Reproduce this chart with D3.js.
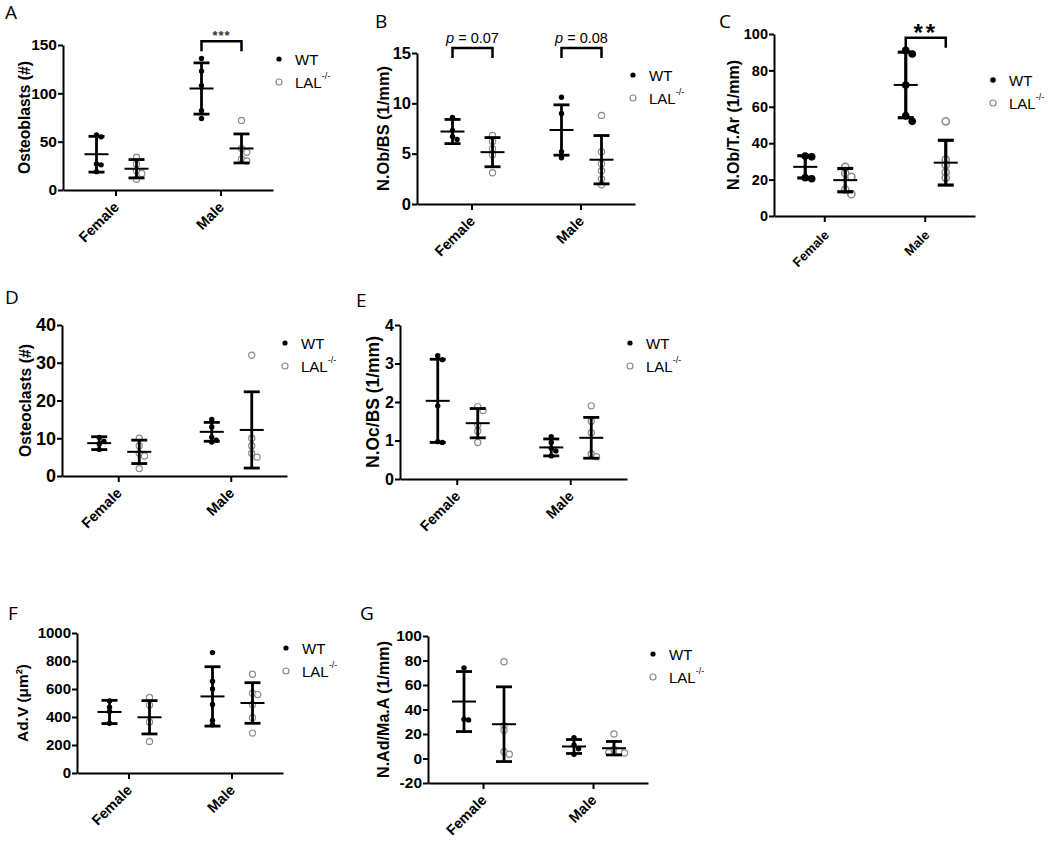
<!DOCTYPE html>
<html>
<head>
<meta charset="utf-8">
<title>Bone histomorphometry, WT vs LAL-/-</title>
<script src="https://cdn.jsdelivr.net/npm/d3@7"></script>
<style>
    body { margin: 0; background: #fff; }
    svg { font-family: 'Liberation Sans', Arial, sans-serif; }
    .letter { font-family: 'Open Sans', 'DejaVu Sans', sans-serif; font-size: 19px; }
</style>
</head>
<body>
<svg id="fig" width="1050" height="846"></svg>
<script>
// categories
var sexes = ['Female', 'Male'];
var genotypes = ['WT', 'LAL'];

// A - osteoblasts
var obTicks = [0, 50, 100, 150];
var obWT = [[57, 55, 27, 26, 19], [136, 123, 108, 82, 74]];
var obLAL = [[34, 27, 20, 17, 11], [72, 43, 39, 32, 30]];
var obMean = [[37, 22], [105, 43]];
var obSD = [[18.5, 9.5], [26.5, 15]];

// B - N.Ob/BS
var nobTicks = [0, 5, 10, 15];
var nobWT = [[8.6, 7.3, 6.7, 6.4], [10.6, 9.0, 5.2, 4.6]];
var nobLAL = [[6.8, 6.2, 5.5, 4.9, 3.1], [8.8, 5.2, 4.0, 3.3, 2.5, 1.9]];
var nobMean = [[7.2, 5.15], [7.35, 4.4]];
var nobSD = [[1.2, 1.45], [2.5, 2.4]];

// C - N.Ob/T.Ar
var nobtTicks = [0, 20, 40, 60, 80, 100];
var nobtWT = [[33, 32.5, 21, 20.5], [91, 89, 72, 55, 52]];
var nobtLAL = [[27, 23.5, 21.5, 14.5, 12], [52, 31, 28, 24, 21]];
var nobtMean = [[27, 19.7], [72, 29.3]];
var nobtSD = [[6.1, 6.4], [18, 12.3]];

// D - osteoclasts
var ocTicks = [0, 10, 20, 30, 40];
var ocWT = [[10.2, 9.2, 8.5, 7.0], [15, 13, 10.3, 9.5, 9.0]];
var ocLAL = [[10, 8, 6, 5.3, 2], [32, 10, 8, 6, 5]];
var ocMean = [[8.7, 6.4], [11.7, 12.2]];
var ocSD = [[1.7, 3.1], [2.5, 10.1]];

// E - N.Oc/BS
var nocTicks = [0, 1, 2, 3, 4];
var nocWT = [[3.2, 3.1, 1.9, 0.97, 0.95], [1.1, 0.95, 0.8, 0.73, 0.6]];
var nocLAL = [[1.88, 1.78, 1.4, 1.25, 0.95], [1.9, 1.5, 1.2, 0.65, 0.58]];
var nocMean = [[2.03, 1.45], [0.82, 1.07]];
var nocSD = [[1.08, 0.38], [0.22, 0.53]];

// F - Ad.V
var advTicks = [0, 200, 400, 600, 800, 1000];
var advWT = [[515, 470, 440, 355], [860, 655, 600, 490, 375, 345]];
var advLAL = [[540, 485, 365, 225], [705, 570, 560, 490, 395, 285]];
var advMean = [[436, 398], [547, 500]];
var advSD = [[83, 119], [212, 145]];

// G - N.Ad/Ma.A
var nadTicks = [-20, 0, 20, 40, 60, 80, 100];
var nadWT = [[74, 32, 31.5], [17, 11, 8, 3.5]];
var nadLAL = [[79, 27, 23, 5.5, 3.5], [20, 7.5, 6, 5, 4.5]];
var nadMean = [[46.5, 28], [9.8, 8.4]];
var nadSD = [[24.5, 30.5], [5.7, 5.5]];

// layout per panel (titleLen = length of the y title in px)
var panels = [
    {letter: 'A', ticks: obTicks, wt: obWT, lal: obLAL, mean: obMean, sd: obSD,
     title: 'Osteoblasts (#)', titleLen: 113, tickFont: 15.5,
     left: 63, right: 273, bottom: 190, top: 45, titleX: 24,
     letterPos: [5, 19], legend: [279, 59], sig: {sex: 'Male', value: 154, text: '***', dy: -1, size: 13}},
    {letter: 'B', ticks: nobTicks, wt: nobWT, lal: nobLAL, mean: nobMean, sd: nobSD,
     title: 'N.Ob/BS (1/mm)', titleLen: 125, tickFont: 16.5,
     left: 417, right: 635, bottom: 204, top: 53, titleX: 383,
     letterPos: [375, 28], legend: [633, 75],
     sig: [{sex: 'Female', value: 15.5, p: '0.07'}, {sex: 'Male', value: 15.5, p: '0.08'}]},
    {letter: 'C', ticks: nobtTicks, wt: nobtWT, lal: nobtLAL, mean: nobtMean, sd: nobtSD,
     title: 'N.Ob/T.Ar (1/mm)', titleLen: 130, tickFont: 14.5,
     left: 774, right: 975, bottom: 216, top: 34, titleX: 733,
     letterPos: [719, 28], legend: [993, 80], big: true,
     sig: {sex: 'Male', value: 98, text: '**', dy: 3, size: 24}},
    {letter: 'D', ticks: ocTicks, wt: ocWT, lal: ocLAL, mean: ocMean, sd: ocSD,
     title: 'Osteoclasts (#)', titleLen: 113, tickFont: 18,
     left: 62, right: 287, bottom: 476, top: 325, titleX: 25,
     letterPos: [5, 304], legend: [285, 343]},
    {letter: 'E', ticks: nocTicks, wt: nocWT, lal: nocLAL, mean: nocMean, sd: nocSD,
     title: 'N.Oc/BS (1/mm)', titleLen: 132, tickFont: 16,
     left: 400, right: 627, bottom: 479, top: 325, titleX: 373,
     letterPos: [356, 307], legend: [630, 343]},
    {letter: 'F', ticks: advTicks, wt: advWT, lal: advLAL, mean: advMean, sd: advSD,
     title: 'Ad.V (\u03bcm\u00b2)', titleLen: 78, tickFont: 15,
     left: 77, right: 283, bottom: 773, top: 633, titleX: 22,
     letterPos: [8, 620], legend: [286, 648]},
    {letter: 'G', ticks: nadTicks, wt: nadWT, lal: nadLAL, mean: nadMean, sd: nadSD,
     title: 'N.Ad/Ma.A (1/mm)', titleLen: 137, tickFont: 15.5,
     left: 428, right: 648, bottom: 783, top: 636, titleX: 383,
     letterPos: [360, 620], legend: [653, 654]}
];

var svg = d3.select('#fig');
svg.append('rect').attr('width', 1050).attr('height', 846).attr('fill', '#fff');

panels.forEach(drawPanel);

// simple swarm: nudge points sideways when they would sit on top of each other
function swarm(values, y, r) {
    var placed = [];
    return values.map(function (v) {
        var py = y(v);
        var steps = [0, 1, -1, 2, -2];
        for (var k = 0; k < steps.length; k++) {
            var px = steps[k] * r * 1.7;
            var free = placed.every(function (q) { return Math.hypot(q[0] - px, q[1] - py) >= r * 1.5; });
            if (free) { placed.push([px, py]); return [px, py]; }
        }
        placed.push([0, py]);
        return [0, py];
    });
}

function drawPanel(p) {
    var g = svg.append('g');
    var big = !!p.big;

    var y = d3.scaleLinear().domain(d3.extent(p.ticks)).range([p.bottom, p.top]);
    var x = d3.scalePoint().domain(sexes).range([p.left, p.right]).padding(0.5);
    var xg = d3.scalePoint().domain(genotypes).range([-19, 21]);

    // y axis
    g.append('g')
        .attr('transform', 'translate(' + p.left + ',0)')
        .call(d3.axisLeft(y).tickValues(p.ticks).tickFormat(String)
            .tickSize(5).tickSizeOuter(0).tickPadding(1))
        .call(function (a) {
            a.select('.domain').attr('stroke', '#000').attr('stroke-width', 2);
            a.selectAll('.tick line').attr('stroke', '#000').attr('stroke-width', 2);
            a.selectAll('text').attr('font-size', p.tickFont).attr('font-weight', 'bold')
                .attr('fill', '#000').attr('font-family', null);
        });

    // x axis
    g.append('g')
        .attr('transform', 'translate(0,' + p.bottom + ')')
        .call(d3.axisBottom(x).tickSize(6).tickSizeOuter(0))
        .call(function (a) {
            a.select('.domain').attr('stroke', '#000').attr('stroke-width', 2);
            a.selectAll('.tick line').attr('stroke', '#000').attr('stroke-width', 2);
            a.selectAll('text')
                .attr('x', 0).attr('y', 0).attr('dy', 0)
                .attr('text-anchor', 'end')
                .attr('transform', big ? 'translate(5,20) rotate(-45)' : 'translate(4,18) rotate(-45)')
                .attr('font-size', big ? 13 : 14.5).attr('font-weight', 'bold')
                .attr('fill', '#000').attr('font-family', null);
        });

    // y title, sized to the length it has in the figure
    var title = g.append('text')
        .attr('transform', 'translate(' + p.titleX + ',' + (p.top + p.bottom) / 2 + ') rotate(-90)')
        .attr('text-anchor', 'middle')
        .attr('dominant-baseline', 'central')
        .attr('font-size', 16)
        .attr('font-weight', 'bold')
        .text(p.title);
    var len = title.node().getComputedTextLength();
    if (len > 0) title.attr('font-size', 16 * p.titleLen / len);

    // panel letter
    g.append('text').attr('class', 'letter')
        .attr('x', p.letterPos[0]).attr('y', p.letterPos[1])
        .text(p.letter);

    var rWT = big ? 3.8 : 2.7;
    var rLAL = big ? 3.6 : 3.1;

    sexes.forEach(function (sex, i) {
        genotypes.forEach(function (geno, j) {
            var cx = x(sex) + xg(geno);
            var vals = (j === 0 ? p.wt : p.lal)[i];
            var r = j === 0 ? rWT : rLAL;
            var pts = swarm(vals, y, r);

            g.selectAll(null)
                .data(pts)
                .enter().append('circle')
                .attr('cx', function (d) { return cx + d[0]; })
                .attr('cy', function (d) { return d[1]; })
                .attr('r', r)
                .attr('fill', j === 0 ? '#000' : '#fff')
                .attr('stroke', j === 0 ? 'none' : '#8c8c8c')
                .attr('stroke-width', big ? 1.6 : 1.2);

            // mean and SD bars
            var m = p.mean[i][j], s = p.sd[i][j];
            var bw = big ? 3.2 : 2.8;
            g.append('line')
                .attr('x1', cx).attr('x2', cx)
                .attr('y1', y(m - s)).attr('y2', y(m + s))
                .attr('stroke', '#000').attr('stroke-width', bw);
            [m - s, m + s].forEach(function (v) {
                g.append('line')
                    .attr('x1', cx - 8).attr('x2', cx + 8)
                    .attr('y1', y(v)).attr('y2', y(v))
                    .attr('stroke', '#000').attr('stroke-width', bw);
            });
            g.append('line')
                .attr('x1', cx - 12).attr('x2', cx + 12)
                .attr('y1', y(m)).attr('y2', y(m))
                .attr('stroke', '#000').attr('stroke-width', 2);
        });
    });

    // significance brackets
    if (p.sig) {
        [].concat(p.sig).forEach(function (s) {
            var x1 = x(s.sex) + xg('WT'), x2 = x(s.sex) + xg('LAL');
            var by = y(s.value);
            g.append('path')
                .attr('d', 'M' + x1 + ',' + (by + 10) + 'V' + by + 'H' + x2 + 'V' + (by + 10))
                .attr('fill', 'none').attr('stroke', '#000').attr('stroke-width', 2.5);
            var t = g.append('text')
                .attr('x', (x1 + x2) / 2)
                .attr('text-anchor', 'middle');
            if (s.p) {
                t.attr('y', by - 5).attr('font-size', 14.5);
                t.append('tspan').attr('font-style', 'italic').text('p');
                t.append('tspan').text(' = ' + s.p);
            } else {
                t.attr('y', by + s.dy).attr('font-size', s.size)
                    .attr('font-weight', 'bold')
                    .attr('letter-spacing', s.size > 16 ? 3 : 1)
                    .attr('fill', s.size > 16 ? '#000' : '#333')
                    .text(s.text);
            }
        });
    }

    // legend
    var lx = p.legend[0], ly = p.legend[1];
    g.append('circle').attr('cx', lx).attr('cy', ly).attr('r', big ? 2.8 : 2.6).attr('fill', '#000');
    g.append('circle').attr('cx', lx).attr('cy', ly + 23).attr('r', 3)
        .attr('fill', '#fff').attr('stroke', '#8c8c8c').attr('stroke-width', 1.2);
    g.append('text').attr('x', lx + 16).attr('y', ly).attr('dominant-baseline', 'central')
        .attr('font-size', 15).text('WT');
    var lt = g.append('text').attr('x', lx + 16).attr('y', ly + 23).attr('dominant-baseline', 'central')
        .attr('font-size', 15);
    lt.append('tspan').text('LAL');
    lt.append('tspan').attr('font-size', 9).attr('dy', -6).text('-/-');
}
</script>
</body>
</html>
